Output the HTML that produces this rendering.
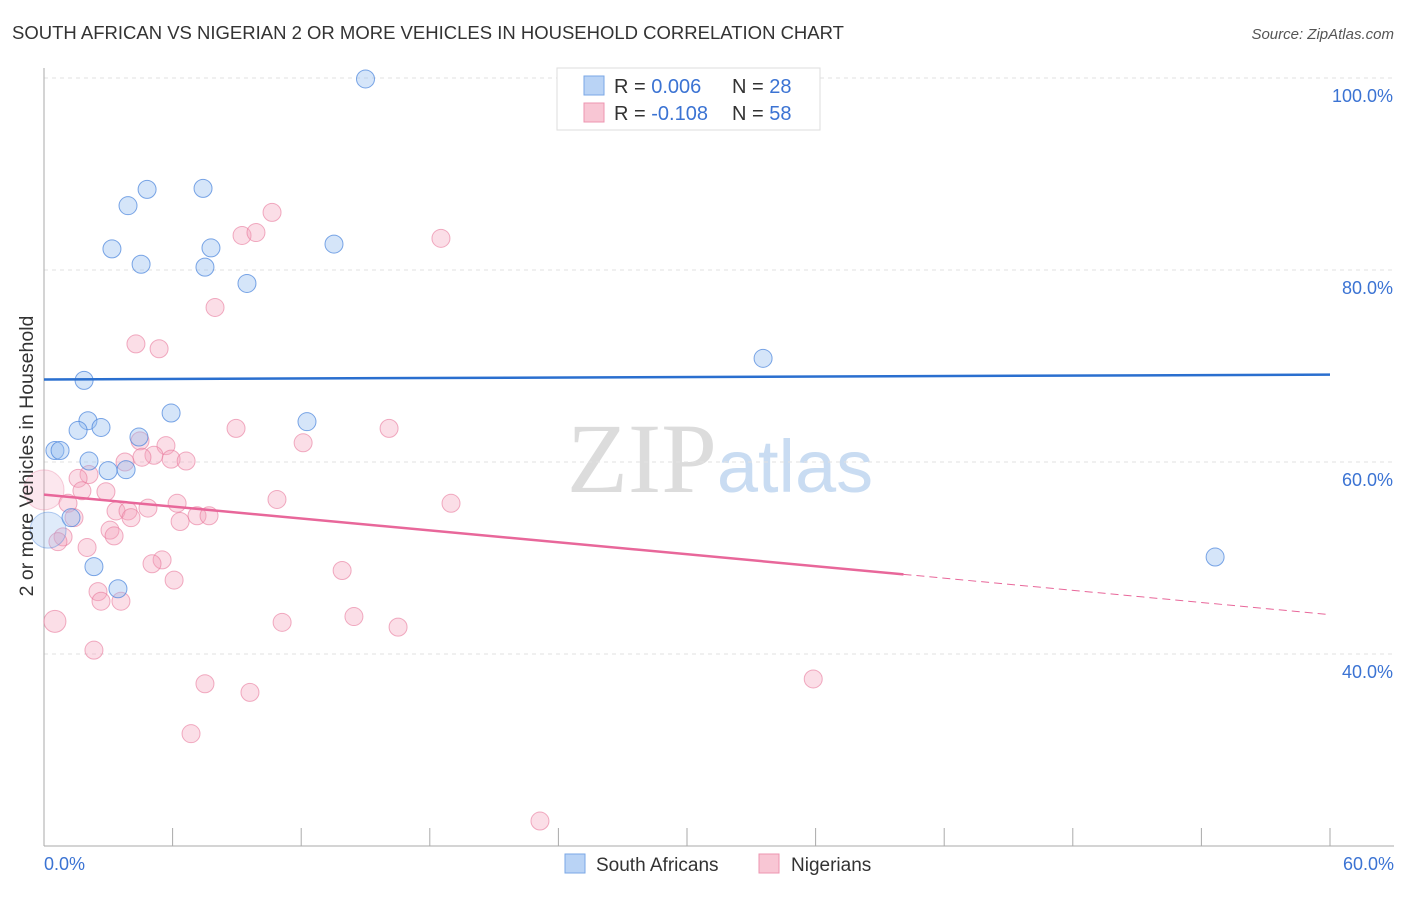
<!DOCTYPE html>
<html><head><meta charset="utf-8"><style>
body{margin:0;background:#fff;font-family:"Liberation Sans",sans-serif;}
svg text{font-family:"Liberation Sans",sans-serif;}
</style></head><body>
<svg id="chart" width="1406" height="892" xmlns="http://www.w3.org/2000/svg">
<text x="12" y="39" font-size="18.5" fill="#333">SOUTH AFRICAN VS NIGERIAN 2 OR MORE VEHICLES IN HOUSEHOLD CORRELATION CHART</text>
<text x="1394" y="39" font-size="15" fill="#555" text-anchor="end" font-style="italic">Source: ZipAtlas.com</text>
<text x="720" y="492" font-size="100" text-anchor="middle"><tspan fill="#dcdcdc" font-family="Liberation Serif">ZIP</tspan><tspan fill="#c9dcf2" font-size="74">atlas</tspan></text>
<g id="grid"></g><g id="axes"></g><g id="marks"></g>
<text transform="translate(33,456) rotate(-90)" font-size="19.5" fill="#333" text-anchor="middle">2 or more Vehicles in Household</text>
<g>
<rect x="557" y="68" width="263" height="62" fill="#fff" stroke="#ddd"/>
<rect x="584" y="76" width="20" height="19" fill="#b9d3f5" stroke="#7aa7e6"/>
<rect x="584" y="103" width="20" height="19" fill="#f8c6d4" stroke="#ee95b0"/>
<text x="614" y="93" font-size="20" fill="#333">R = <tspan fill="#3b73d3">0.006</tspan></text>
<text x="732" y="93" font-size="20" fill="#333">N = <tspan fill="#3b73d3">28</tspan></text>
<text x="614" y="120" font-size="20" fill="#333">R = <tspan fill="#3b73d3">-0.108</tspan></text>
<text x="732" y="120" font-size="20" fill="#333">N = <tspan fill="#3b73d3">58</tspan></text>
</g>
<g>
<rect x="565" y="854" width="20" height="19" fill="#b9d3f5" stroke="#7aa7e6"/>
<text x="596" y="871" font-size="19" fill="#333">South Africans</text>
<rect x="759" y="854" width="20" height="19" fill="#f8c6d4" stroke="#ee95b0"/>
<text x="791" y="871" font-size="19" fill="#333">Nigerians</text>
</g>
</svg>
<script>
const blueX=[15.0,4.81,7.42,3.92,3.17,7.79,4.53,7.51,13.53,9.47,33.55,1.87,5.93,2.05,12.27,1.59,2.66,4.43,0.51,0.75,2.10,2.99,3.83,1.26,54.64,2.33,3.45,0.19];
const blueY=[99.9,88.4,88.5,86.7,82.2,82.3,80.6,80.3,82.7,78.6,70.8,68.5,65.1,64.3,64.2,63.3,63.6,62.6,61.2,61.2,60.1,59.1,59.2,54.2,50.1,49.1,46.8,52.9];
const blueR=[9,9,9,9,9,9,9,9,9,9,9,9,9,9,9,9,9,9,9,9,9,9,9,9,9,9,9,18];
const pinkX=[10.64,9.24,9.89,18.52,7.98,4.29,5.37,8.96,16.10,12.09,4.48,5.69,5.13,4.57,5.93,6.63,3.78,2.10,1.59,2.89,1.77,0,10.87,18.99,6.21,1.12,4.85,3.36,3.92,7.14,7.70,4.06,6.35,1.40,3.08,3.27,0.89,0.65,2.01,5.51,5.04,13.91,6.07,2.52,2.66,3.59,14.46,11.11,0.51,16.52,2.33,7.51,9.61,35.89,6.86,23.14];
const pinkY=[86.0,83.6,83.9,83.3,76.1,72.3,71.8,63.5,63.5,62.0,62.2,61.7,60.7,60.5,60.3,60.1,60.0,58.7,58.3,56.9,57.0,57.1,56.1,55.7,55.7,55.7,55.2,54.9,54.9,54.4,54.4,54.2,53.8,54.2,52.9,52.3,52.2,51.7,51.1,49.8,49.4,48.7,47.7,46.5,45.5,45.5,43.9,43.3,43.4,42.8,40.4,36.9,36.0,37.4,31.7,22.6];
const pinkR=[9,9,9,9,9,9,9,9,9,9,9,9,9,9,9,9,9,9,9,9,9,20,9,9,9,9,9,9,9,9,9,9,9,9,9,9,9,9,9,9,9,9,9,9,9,9,9,9,11,9,9,9,9,9,9,9];
const blueTrend=[68.6,69.1];
const pinkTrend=[56.6,48.3,44.1];
const pinkTrendX=[0,40.1,60];
const yTicks=[100,80,60,40];
const yTickLabels=["100.0%","80.0%","60.0%","40.0%"];
const xTicks=[0,6,12,18,24,30,36,42,48,54,60];

const NS="http://www.w3.org/2000/svg";
const X=v=>44+v/60*1286;
const Y=v=>78+(100-v)/20*192;
function mk(tag,attrs,parent){const e=document.createElementNS(NS,tag);for(const k in attrs)e.setAttribute(k,attrs[k]);parent.appendChild(e);return e;}
const grid=document.getElementById('grid'),axes=document.getElementById('axes'),marks=document.getElementById('marks');
yTicks.forEach((t,i)=>{
 const l=mk('line',{x1:44,x2:1394,y1:Y(t),y2:Y(t),stroke:'#e2e2e2','stroke-dasharray':'4,4'},grid);
 
 
 const tx=mk('text',{x:1393,y:Y(t)+24,'font-size':18,fill:'#3b73d3','text-anchor':'end'},axes);
 tx.textContent=yTickLabels[i];
 
 
});
const ya=mk('line',{x1:44,x2:44,y1:68,y2:846,stroke:'#aaa'},axes);


const xa=mk('line',{x1:44,x2:1394,y1:846,y2:846,stroke:'#aaa'},axes);


xTicks.forEach(t=>{
 const l=mk('line',{x1:X(t),x2:X(t),y1:828,y2:846,stroke:'#aaa'},axes);
 
 
});
const xl0=mk('text',{x:44,y:870,'font-size':18,fill:'#3b73d3'},axes);xl0.textContent=xTicks[0].toFixed(1)+'%';


const xl1=mk('text',{x:1394,y:870,'font-size':18,fill:'#3b73d3','text-anchor':'end'},axes);xl1.textContent=xTicks[xTicks.length-1].toFixed(1)+'%';



pinkX.forEach((x,i)=>{
 const big=pinkR[i]>12;
 const c=mk('circle',{cx:X(x),cy:Y(pinkY[i]),r:pinkR[i],fill:big?'rgba(244,160,186,0.25)':'rgba(244,160,186,0.35)',stroke:big?'rgba(232,120,155,0.35)':'rgba(232,120,155,0.6)','stroke-width':1},marks);
 
 
});
blueX.forEach((x,i)=>{
 const big=blueR[i]>12;
 const c=mk('circle',{cx:X(x),cy:Y(blueY[i]),r:blueR[i],fill:big?'rgba(150,190,240,0.3)':'rgba(150,190,240,0.4)',stroke:big?'rgba(70,130,220,0.4)':'rgba(70,130,220,0.7)','stroke-width':1},marks);
 
 
});
const bt=mk('line',{x1:X(0),x2:X(60),y1:Y(blueTrend[0]),y2:Y(blueTrend[1]),stroke:'#2a6fcf','stroke-width':2.5},marks);


const pt=mk('line',{x1:X(pinkTrendX[0]),x2:X(pinkTrendX[1]),y1:Y(pinkTrend[0]),y2:Y(pinkTrend[1]),stroke:'#e8679a','stroke-width':2.5},marks);


const pd=mk('line',{x1:X(pinkTrendX[1]),x2:X(pinkTrendX[2]),y1:Y(pinkTrend[1]),y2:Y(pinkTrend[2]),stroke:'#e8679a','stroke-width':1,'stroke-dasharray':'8,5'},marks);


</script>
</body></html>
